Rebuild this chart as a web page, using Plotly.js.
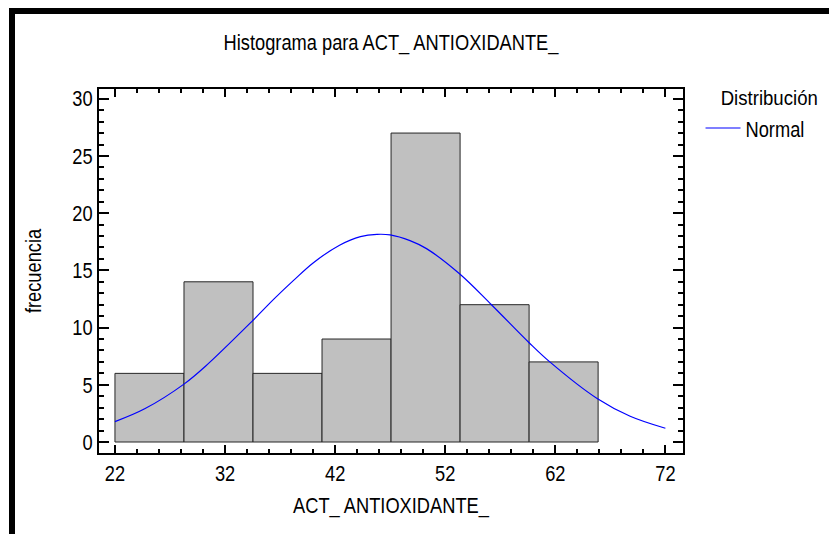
<!DOCTYPE html>
<html>
<head>
<meta charset="utf-8">
<script src="https://cdn.plot.ly/plotly-3.0.1.min.js"></script>
<style>
  html, body { margin: 0; padding: 0; background: #fff; }
  #wrap { position: relative; width: 829px; height: 534px; }
  #chart { position: absolute; left: 0; top: 0; width: 829px; height: 534px; }
  #frame { position: absolute; left: 9px; top: 8px; right: 0; bottom: 0;
           border-left: 6px solid #000; border-top: 6px solid #000; pointer-events: none; }
</style>
</head>
<body>
<div id="wrap">
  <div id="chart"></div>
  <div id="frame"></div>
</div>
<script>
// ---- data ----
const binEdges = [22, 28.27, 34.54, 40.81, 47.08, 53.35, 59.62, 65.89];
const counts   = [6, 14, 6, 9, 27, 12, 7];

const normalX = [22.0, 24.7, 28.3, 30.2, 34.4, 36.5, 38.2, 40.0, 42.4, 44.3, 45.8, 47.0, 48.8, 50.3, 53.3, 56.2, 59.6, 61.5, 65.8, 68.8, 72.0];
const normalY = [1.78, 2.9, 5.08, 6.6, 10.5, 12.55, 14.1, 15.65, 17.2, 17.95, 18.15, 18.1, 17.6, 16.9, 14.7, 12.0, 8.7, 7.0, 3.8, 2.25, 1.2];

const xTickVals = [22, 32, 42, 52, 62, 72];
const xTickText = ["22", "32", "42", "52", "62", "72"];
const yTickVals = [0, 5, 10, 15, 20, 25, 30];
const yTickText = ["0", "5", "10", "15", "20", "25", "30"];

const titleText = "Histograma para ACT_ ANTIOXIDANTE_";
const xTitle = "ACT_ ANTIOXIDANTE_";
const yTitle = "frecuencia";
const legendTitle = "Distribución";
const seriesName = "Normal";

// ---- build traces ----
const centers = counts.map((_, i) => (binEdges[i] + binEdges[i + 1]) / 2);
const widths  = counts.map((_, i) => binEdges[i + 1] - binEdges[i]);

const FONT = '"Liberation Sans", Arial, sans-serif';
const NARROW = 0.83;        // the reference uses a narrow sans face
const NARROW_HEAD = 0.93;   // legend heading drawn at 20px, condensed less

const bars = {
  type: 'bar', x: centers, y: counts, width: widths,
  marker: { color: '#c0c0c0', line: { color: '#262626', width: 1 } },
  showlegend: false, hoverinfo: 'x+y'
};
const curve = {
  type: 'scatter', mode: 'lines', x: normalX, y: normalY, name: seriesName,
  line: { color: '#0000ff', width: 1.2, shape: 'spline' }
};

const axisCommon = {
  showgrid: false, zeroline: false, showline: true, linecolor: '#000', linewidth: 2,
  mirror: 'ticks', ticks: 'inside', tickcolor: '#000', tickwidth: 2,
  tickfont: { family: FONT, size: 22, color: '#000' }
};

const layout = {
  width: 829, height: 534,
  paper_bgcolor: '#fff', plot_bgcolor: '#fff',
  margin: { l: 99, r: 146, t: 89, b: 81, pad: 0, autoexpand: false },
  font: { family: FONT, size: 22, color: '#000' },
  title: { text: titleText, x: 0.5, xref: 'paper', xanchor: 'center',
           y: 1 - 42 / 534, yref: 'container', yanchor: 'middle',
           font: { family: FONT, size: 22, color: '#000' } },
  bargap: 0,
  xaxis: Object.assign({}, axisCommon, {
    range: [20.55, 73.6], tickmode: 'array', tickvals: xTickVals, ticktext: xTickText,
    ticklen: 8,
    minor: { ticks: 'inside', dtick: 2, tick0: 22, ticklen: 4, tickwidth: 2, tickcolor: '#000' },
    title: { text: xTitle, standoff: 12, font: { family: FONT, size: 22, color: '#000' } },
    automargin: false
  }),
  yaxis: Object.assign({}, axisCommon, {
    range: [-0.96, 30.85], tickmode: 'array', tickvals: yTickVals, ticktext: yTickText,
    ticklen: 10,
    minor: { ticks: 'inside', dtick: 1, tick0: 0, ticklen: 5, tickwidth: 2, tickcolor: '#000' },
    title: { text: yTitle, standoff: 20, font: { family: FONT, size: 22, color: '#000' } },
    automargin: false
  }),
  showlegend: true,
  legend: {
    x: 1.030, xanchor: 'left', y: 0.95, yanchor: 'top', xref: 'paper', yref: 'paper',
    bgcolor: 'rgba(0,0,0,0)', borderwidth: 0,
    font: { family: FONT, size: 22, color: '#000' },
    itemwidth: 35
  },
  annotations: [{
    text: legendTitle, xref: 'paper', yref: 'paper', showarrow: false,
    x: (769 - 99) / 584, y: (453 - 98) / 364, xanchor: 'center', yanchor: 'middle',
    font: { family: FONT, size: 20, color: '#000' }
  }]
};

Plotly.newPlot('chart', [bars, curve], layout, { staticPlot: true }).then(function (gd) {
  // condense every label horizontally to mimic the narrow face of the original
  gd.querySelectorAll('svg text').forEach(function (t) {
    if (!t.textContent) return;
    const k = t.classList.contains('annotation-text') ? NARROW_HEAD : NARROW;
    const len = t.getComputedTextLength();
    if (len > 0) {
      t.setAttribute('textLength', (len * k).toFixed(2));
      t.setAttribute('lengthAdjust', 'spacingAndGlyphs');
    }
  });
});
</script>
</body>
</html>
